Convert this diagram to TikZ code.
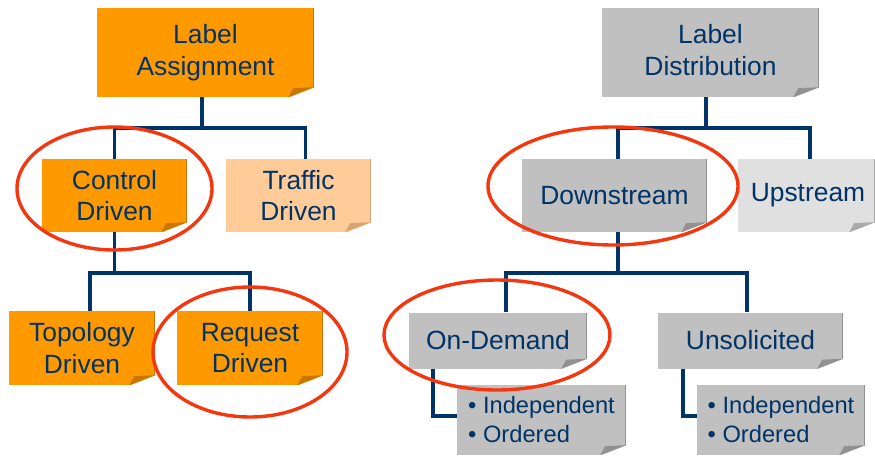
\documentclass[tikz,border=0pt]{standalone}
\usepackage{fontspec}
\setmainfont{Liberation Sans}
\usetikzlibrary{calc}

\definecolor{navy}{RGB}{0,51,102}
\definecolor{ringred}{RGB}{245,55,15}
\definecolor{orangefill}{RGB}{255,153,0}
\definecolor{orangefold}{RGB}{200,120,0}
\definecolor{peachfill}{RGB}{255,204,153}
\definecolor{peachfold}{RGB}{215,165,115}
\definecolor{grayfill}{RGB}{192,192,192}
\definecolor{grayfold}{RGB}{145,145,145}
\definecolor{paleFill}{RGB}{224,224,224}
\definecolor{paleFold}{RGB}{170,170,170}

% dog-eared lower right corner of a note box: #1 node, #2 fold colour
\newcommand\dogear[2]{%
  \draw[#2, line width=1] ($(#1.north east)+(-0.5,0.5)$) -- ($(#1.south east)+(-0.5,-9)$);
  \fill[white] ($(#1.south east)+(-26,0.6)$) -- ($(#1.south east)+(0.6,0.6)$)
      -- ($(#1.south east)+(0.6,-10)$) -- cycle;
  \fill[#2] ($(#1.south east)+(-26,0)$) -- ($(#1.south east)+(-21,-9)$)
      -- ($(#1.south east)+(0,-10)$) -- cycle;
}

\tikzset{
  note/.style={rectangle, inner sep=0pt, text=navy, align=center,
    font=\fontsize{26.4}{31.5}\selectfont},
  orangenote/.style={note, fill=orangefill},
  peachnote/.style={note, fill=peachfill},
  graynote/.style={note, fill=grayfill},
  palenote/.style={note, fill=paleFill},
  listnote/.style={note, fill=grayfill, font=\fontsize{23.7}{29}\selectfont},
  conn/.style={draw=navy, line width=3.5pt},
  ring/.style={draw=ringred, line width=3.4pt},
}

\begin{document}
\begin{tikzpicture}[x=1pt, y=-1pt]
  \fill[white] (0,0) rectangle (875,455);
  \useasboundingbox (0,0) rectangle (875,455);

  % label assignment tree
  \node[orangenote, minimum width=217, minimum height=89] (la) at (205.5,52.5) {Label\\Assignment};
  \node[orangenote, minimum width=145, minimum height=73] (cd) at (114.5,195.5) {Control\\Driven};
  \node[peachnote,  minimum width=145, minimum height=73] (td) at (298.5,195.5) {Traffic\\Driven};
  \node[orangenote, minimum width=146, minimum height=74] (tp) at (82,348) {Topology\\Driven};
  \node[orangenote, minimum width=146, minimum height=74] (rq) at (250,348) {Request\\Driven};

  % label distribution tree
  \node[graynote, minimum width=217, minimum height=89] (ld) at (710.5,52.5) {Label\\Distribution\vphantom{g}};
  \node[graynote, minimum width=185, minimum height=73] (ds) at (614.5,195.5) {Downstream};
  \node[palenote, minimum width=137, minimum height=73] (us) at (806.5,195.5) {\hspace*{3pt}Upstream};
  \node[graynote, minimum width=178, minimum height=56] (od) at (498,340.5) {On-Demand};
  \node[graynote, minimum width=185, minimum height=56] (un) at (750.5,340.5) {Unsolicited};
  \node[listnote, minimum width=169, minimum height=70, align=left] (s1) at (541.5,420)
    {• Independent\\• Ordered};
  \node[listnote, minimum width=168, minimum height=70, align=left] (s2) at (781,420)
    {• Independent\\• Ordered};

  \dogear{la}{orangefold}
  \dogear{cd}{orangefold}
  \dogear{td}{peachfold}
  \dogear{tp}{orangefold}
  \dogear{rq}{orangefold}
  \dogear{ld}{grayfold}
  \dogear{ds}{grayfold}
  \dogear{us}{paleFold}
  \dogear{od}{grayfold}
  \dogear{un}{grayfold}
  \dogear{s1}{grayfold}
  \dogear{s2}{grayfold}

  % connectors
  \draw[conn] ($(la.south)+(-3.5,0)$) -- ++(0,31);
  \draw[conn] (cd.north) -- ++(0,-31) -| ($(td.north)+(7,0)$);
  \draw[conn] (cd.south) -- ++(0,41);
  \draw[conn] ($(tp.north)+(8,0)$) -- ++(0,-38) -| (rq.north);

  \draw[conn] ($(ld.south)+(-4.5,0)$) -- ++(0,31);
  \draw[conn] ($(ds.north)+(3.5,0)$) -- ++(0,-31) -| ($(us.north)+(3.5,0)$);
  \draw[conn] ($(ds.south)+(3.5,0)$) -- ++(0,41);
  \draw[conn] ($(od.north)+(8,0)$) -- ++(0,-39.5) -| ($(un.north)+(-3.5,0)$);
  \draw[conn] ($(od.south west)+(24,0)$) |- ($(s1.west)+(0,-4)$);
  \draw[conn] ($(un.south west)+(25,0)$) |- ($(s2.west)+(0,-4)$);

  % highlight rings
  \draw[ring] ($(cd.center)+(0,-7)$) ellipse [x radius=97.5, y radius=61.5];
  \draw[ring] ($(rq.center)+(0,4)$) ellipse [x radius=97, y radius=65];
  \draw[ring] ($(ds.center)+(-1.5,-9.5)$) ellipse [x radius=125, y radius=59];
  \draw[ring] ($(od.center)+(-1,-5.5)$) ellipse [x radius=113, y radius=55];
\end{tikzpicture}
\end{document}
